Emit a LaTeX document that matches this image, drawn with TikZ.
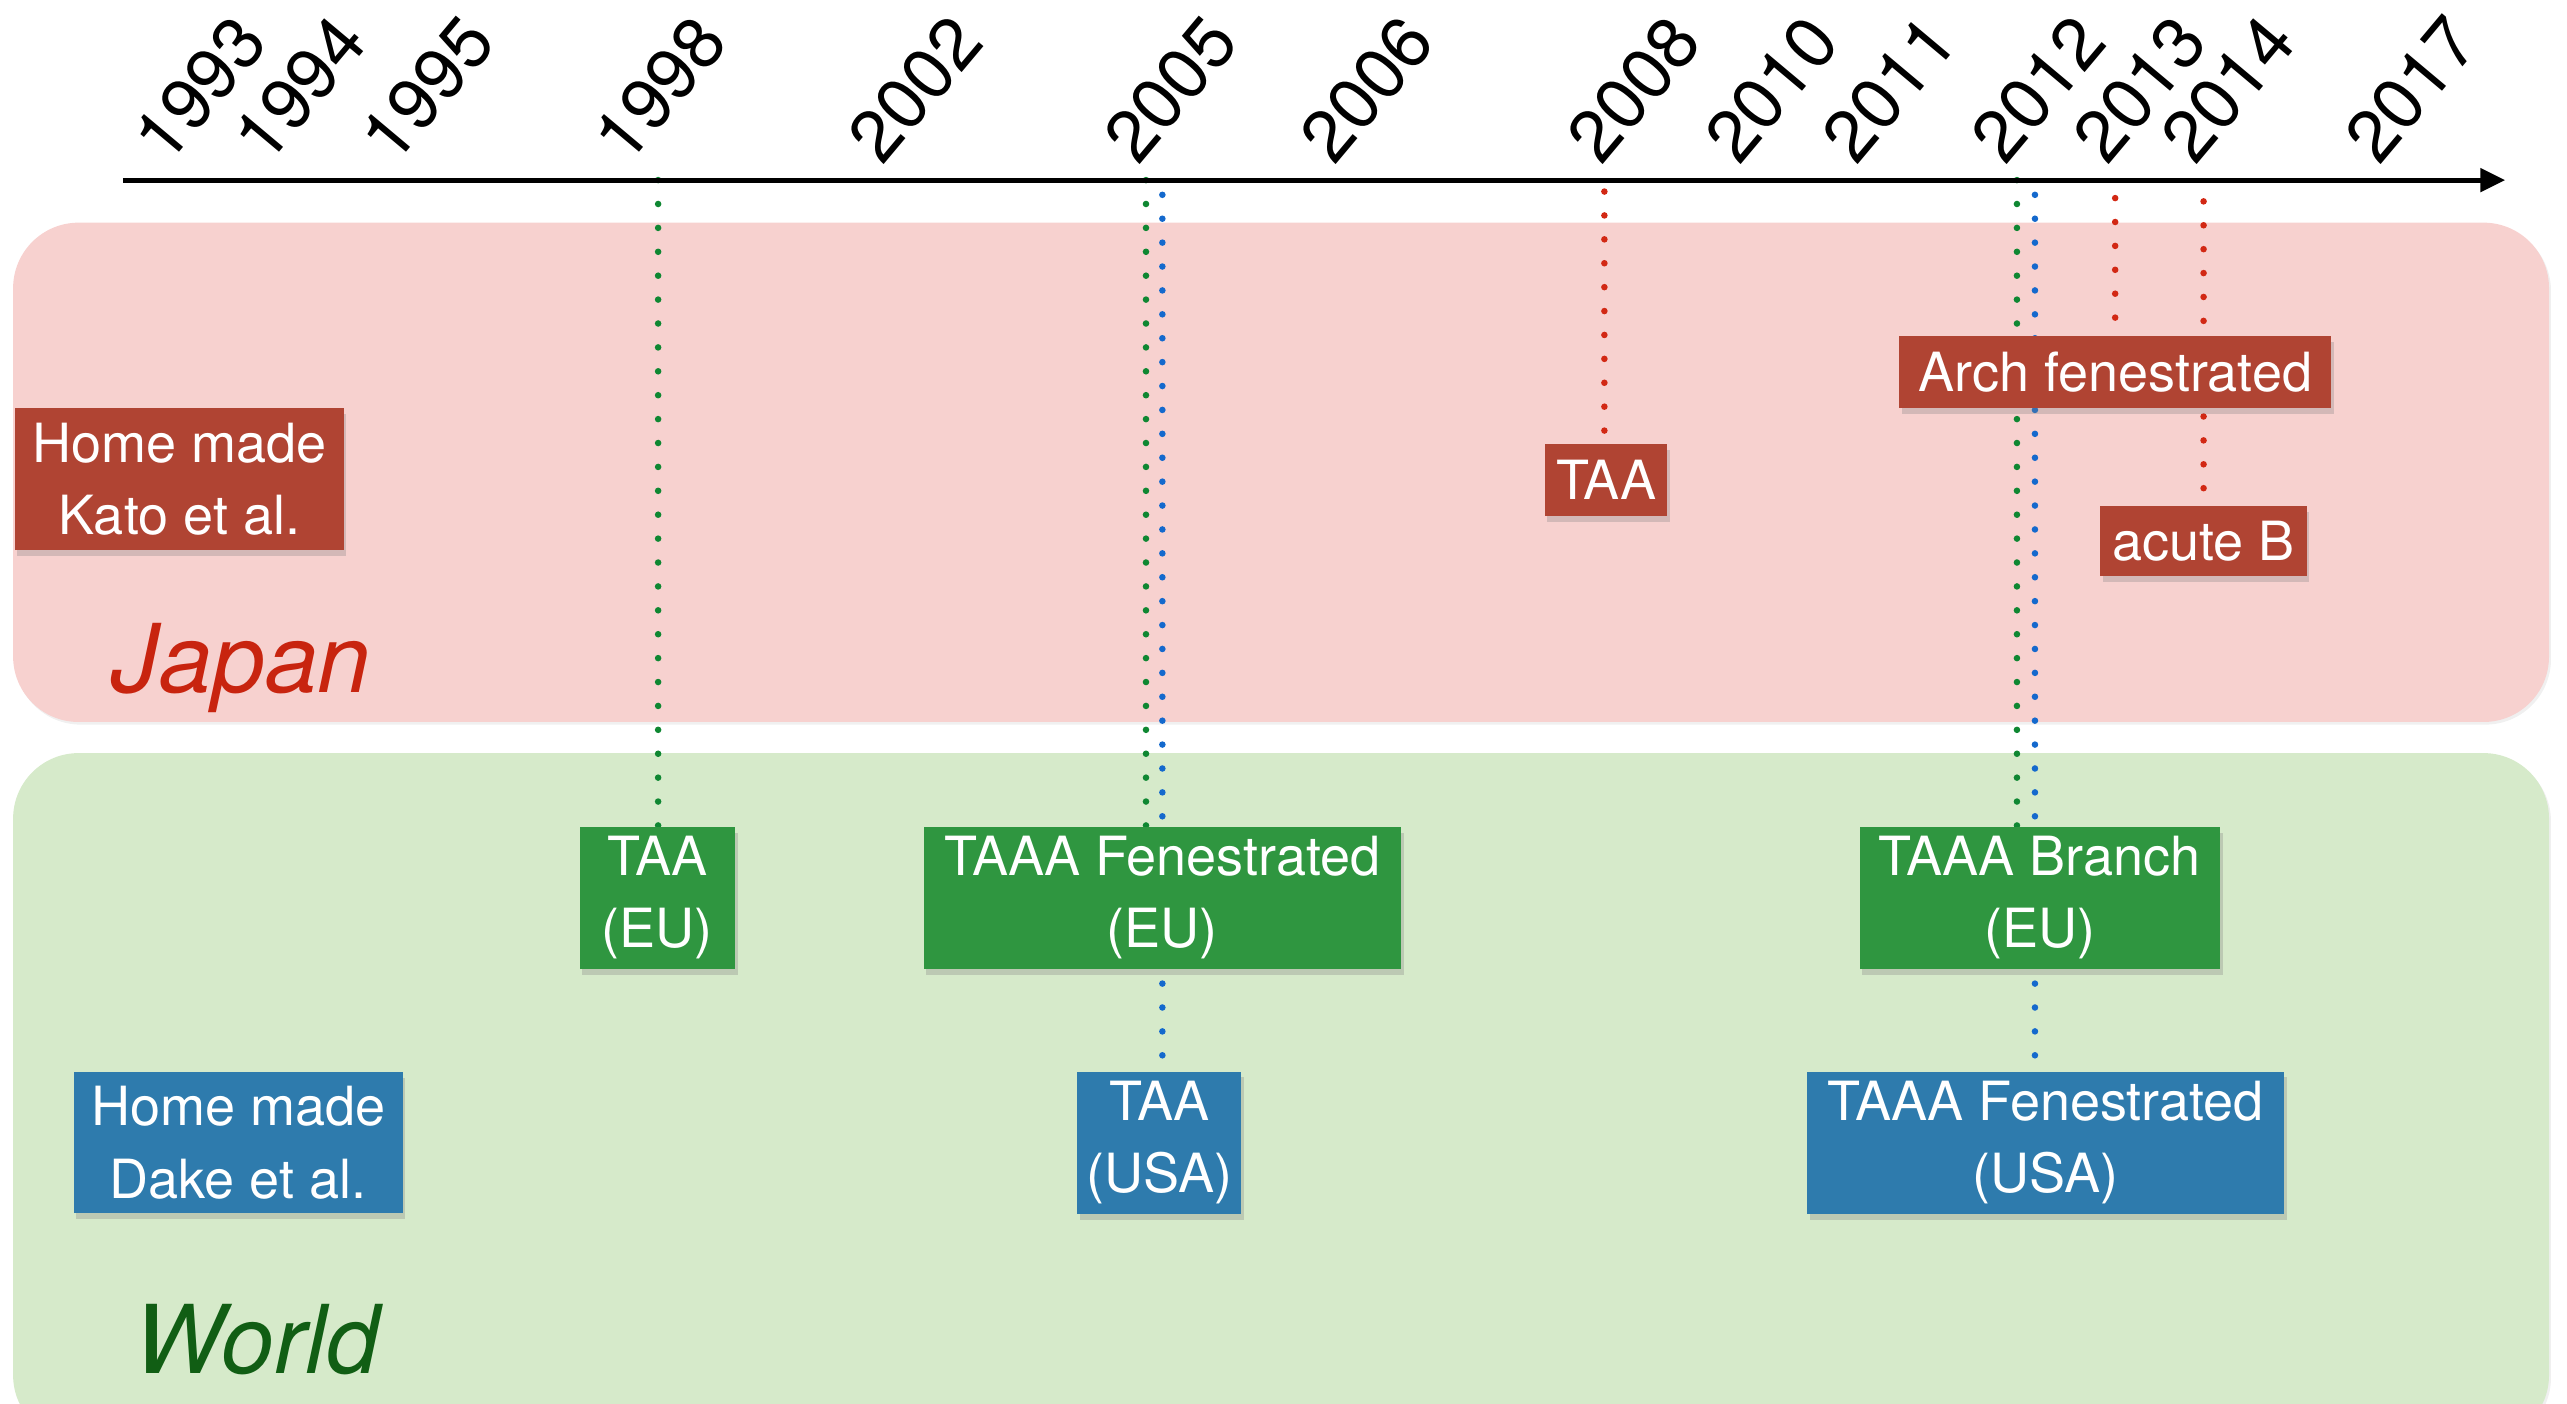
\documentclass[tikz,border=0pt]{standalone}
\usepackage{fontspec}
\setmainfont{TeX Gyre Heros}
\usetikzlibrary{shadows}

\definecolor{jpfill}{RGB}{247,209,207}
\definecolor{wdfill}{RGB}{214,234,202}
\definecolor{jpred}{RGB}{176,68,51}
\definecolor{eugreen}{RGB}{47,150,64}
\definecolor{usblue}{RGB}{46,123,173}
\definecolor{dotred}{RGB}{210,40,20}
\definecolor{dotgreen}{RGB}{15,135,50}
\definecolor{dotblue}{RGB}{20,105,205}
\definecolor{jptext}{RGB}{200,36,15}
\definecolor{wdtext}{RGB}{17,94,20}

\pgfdeclarelayer{panels}
\pgfdeclarelayer{guides}
\pgfsetlayers{panels,guides,main}

\begin{document}
\begin{tikzpicture}[x=0.5pt,y=0.5pt,yscale=-1,xscale=1,
  yearlbl/.style={anchor=base west,rotate=50,inner sep=0pt,font=\fontsize{22}{26}\selectfont},
  devbox/.style={text=white,align=center,inner sep=0pt,font=\fontsize{16.5}{22}\selectfont,
    drop shadow={shadow xshift=0.8pt,shadow yshift=-1.8pt,opacity=0.3}},
  jpbox/.style={devbox,fill=jpred},
  eubox/.style={devbox,fill=eugreen},
  usbox/.style={devbox,fill=usblue},
  regionlbl/.style={anchor=base west,inner sep=0pt,font=\fontsize{29}{34}\selectfont\itshape},
  yeardots/.style={line width=2pt,line cap=round,dash pattern=on 0pt off 7.3pt},
  jpdots/.style={yeardots,color=dotred},
  eudots/.style={yeardots,color=dotgreen},
  usdots/.style={yeardots,color=dotblue}]
\useasboundingbox (0,0) rectangle (1568,857);

%Panels
\begin{pgfonlayer}{panels}
\fill [jpfill, rounded corners=20pt, drop shadow={shadow xshift=0.6pt,shadow yshift=-0.8pt,opacity=0.12}] (8,136) rectangle (1557,441);
\fill [wdfill, rounded corners=20pt, drop shadow={shadow xshift=0.6pt,shadow yshift=-0.8pt,opacity=0.12}] (8,460) rectangle (1557,880);
\end{pgfonlayer}

%Time axis
\coordinate (axstart) at (75,110);
\coordinate (axend) at (1516,110);
\draw [line width=1.5pt] (axstart) -- (axend);
\draw [shift={(1530,110)}, rotate = 0] [fill=black] [draw opacity=0] (-15,-7.5) -- (0,0) -- (-15,7.5) -- cycle;

%Years
\node [yearlbl] (y1993) at (102,102) {1993};
\node [yearlbl] (y1994) at (163,102) {1994};
\node [yearlbl] (y1995) at (241,102) {1995};
\node [yearlbl] (y1998) at (383,102) {1998};
\node [yearlbl] (y2002) at (539,102) {2002};
\node [yearlbl] (y2005) at (695,102) {2005};
\node [yearlbl] (y2006) at (815,102) {2006};
\node [yearlbl] (y2008) at (978,102) {2008};
\node [yearlbl] (y2010) at (1062,102) {2010};
\node [yearlbl] (y2011) at (1134,102) {2011};
\node [yearlbl] (y2012) at (1225,102) {2012};
\node [yearlbl] (y2013) at (1287,102) {2013};
\node [yearlbl] (y2014) at (1341,102) {2014};
\node [yearlbl] (y2017) at (1453,102) {2017};

%Region labels
\node [regionlbl, text=jptext] (japan) at (68,423) {Japan};
\node [regionlbl, text=wdtext] (world) at (82,839) {World};

%Japan devices
\node [jpbox, minimum width=100.5pt, minimum height=43.5pt] (kato) at (109.5,292.5) {Home made\\Kato et al.};
\node [jpbox, minimum width=37.5pt, minimum height=22pt] (taajp) at (981,293) {TAA};
\node [jpbox, minimum width=132pt, minimum height=22pt] (arch) at (1292,227) {Arch fenestrated};
\node [jpbox, minimum width=63pt, minimum height=21.5pt] (acute) at (1346,330.5) {acute B};

%World devices
\node [eubox, minimum width=47.5pt, minimum height=43.5pt] (taaeu) at (401.5,548.5) {TAA\\(EU)};
\node [eubox, minimum width=145.75pt, minimum height=43.5pt] (fenestu) at (710,548.5) {TAAA Fenestrated\\(EU)};
\node [eubox, minimum width=110pt, minimum height=43.5pt] (branchu) at (1246,548.5) {TAAA Branch\\(EU)};
\node [usbox, minimum width=100.5pt, minimum height=43pt] (dake) at (145.5,698) {Home made\\Dake et al.};
\node [usbox, minimum width=50pt, minimum height=43.5pt] (taausa) at (708,698) {TAA\\(USA)};
\node [usbox, minimum width=145.75pt, minimum height=43.5pt] (fenusa) at (1249.5,698) {TAAA Fenestrated\\(USA)};

%Dotted guides
\coordinate (t1998) at (402,110);
\coordinate (t2005g) at (700,110);
\coordinate (t2005b) at (710,119);
\coordinate (t2008) at (980,117);
\coordinate (t2012g) at (1232,110);
\coordinate (t2012b) at (1243,119);
\coordinate (t2013) at (1292,121);
\coordinate (t2014) at (1346,123);
\begin{pgfonlayer}{guides}
\draw [eudots] (t1998) -- (t1998 |- taaeu.north);
\draw [eudots] (t2005g) -- (t2005g |- fenestu.north);
\draw [usdots] (t2005b) -- (t2005b |- taausa.north);
\draw [jpdots] (t2008) -- (t2008 |- taajp.north);
\draw [eudots] (t2012g) -- (t2012g |- branchu.north);
\draw [usdots] (t2012b) -- (t2012b |- fenusa.north);
\draw [jpdots] (t2013) -- (t2013 |- arch.north);
\draw [jpdots] (t2014) -- (t2014 |- acute.north);
\end{pgfonlayer}

\end{tikzpicture}
\end{document}
